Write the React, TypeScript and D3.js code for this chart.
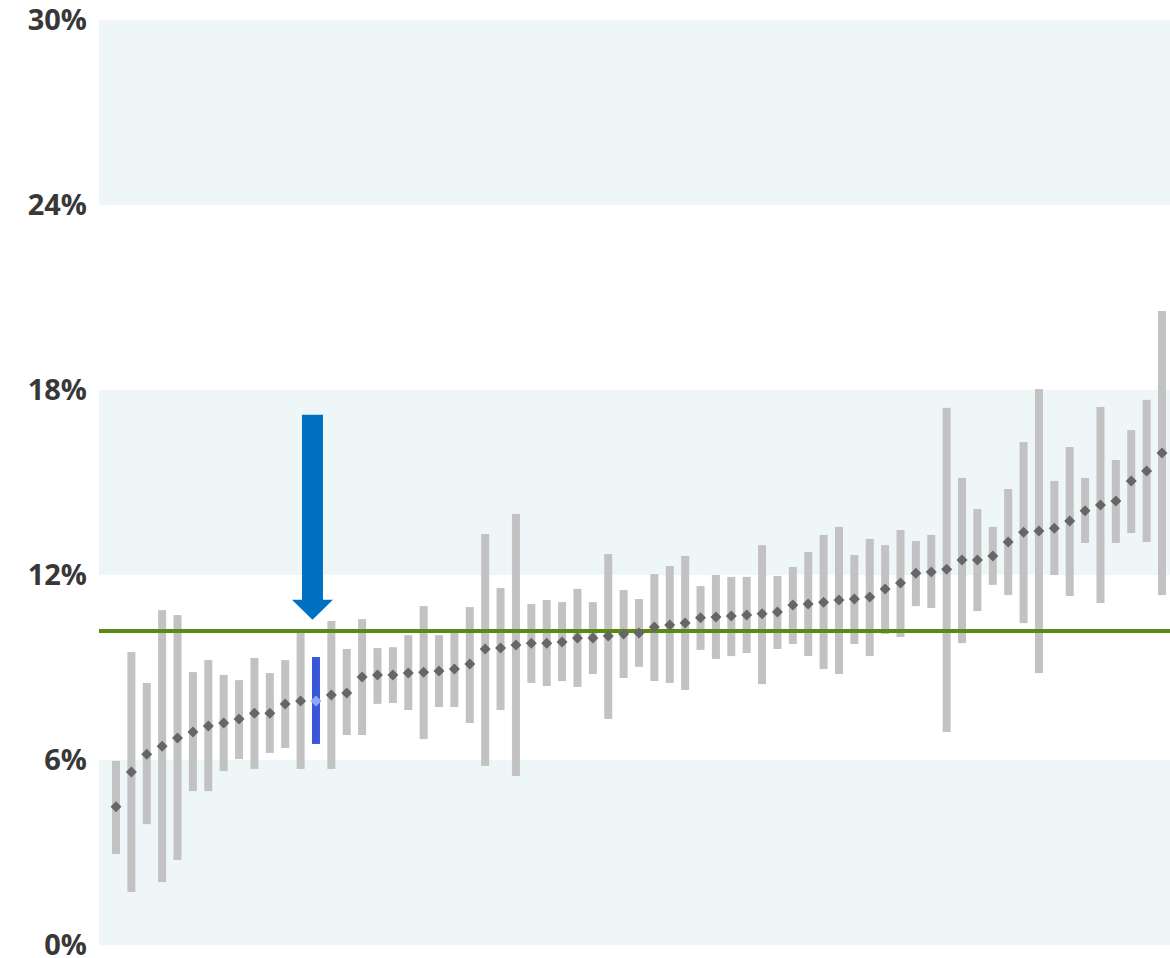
import React from "react";
import * as d3 from "d3";

// values in percent
const lows = [2.95,1.72,3.92,2.04,2.76,4.99,4.99,5.64,6.03,5.71,6.23,6.39,5.71,6.52,5.71,6.81,6.81,7.82,7.85,7.62,6.68,7.72,7.72,7.20,5.81,7.62,5.48,8.50,8.40,8.56,8.37,8.79,7.33,8.66,9.02,8.56,8.50,8.27,9.57,9.28,9.37,9.47,8.46,9.60,9.76,9.37,8.95,8.79,9.76,9.37,10.09,9.99,10.99,10.93,6.91,9.79,10.83,11.68,11.35,10.44,8.82,12.00,11.32,13.04,11.09,13.04,13.36,13.07,11.35];
const mids = [4.48,5.61,6.19,6.45,6.71,6.91,7.10,7.20,7.33,7.52,7.52,7.82,7.91,7.91,8.11,8.17,8.69,8.76,8.76,8.82,8.85,8.89,8.95,9.11,9.60,9.63,9.73,9.79,9.79,9.83,9.96,9.96,10.02,10.09,10.12,10.31,10.38,10.44,10.61,10.64,10.67,10.70,10.74,10.80,11.03,11.06,11.12,11.19,11.22,11.29,11.55,11.74,12.06,12.10,12.19,12.49,12.49,12.62,13.07,13.39,13.43,13.52,13.75,14.08,14.27,14.40,15.05,15.37,15.96];
const highs = [5.97,9.50,8.50,10.86,10.70,8.85,9.24,8.76,8.59,9.31,8.82,9.24,10.15,9.34,10.51,9.60,10.57,9.63,9.66,10.05,10.99,10.05,10.12,10.96,13.33,11.58,13.98,11.06,11.19,11.12,11.55,11.12,12.68,11.51,11.22,12.03,12.29,12.62,11.64,12.00,11.94,11.94,12.97,11.97,12.26,12.75,13.30,13.56,12.65,13.17,12.97,13.46,13.10,13.30,17.42,15.15,14.14,13.56,14.79,16.31,18.03,15.05,16.15,15.15,17.45,15.73,16.70,17.68,20.56];
const highlightIndex = 13;
const referenceValue = 10.18;
const arrowTop = 17.2;
const arrowTip = 10.55;
const yTicks = [0, 6, 12, 18, 24, 30];
const bands = [[0, 6], [12, 18], [24, 30]];

const W = 1170;
const H = 958;

export default function App() {
  const idx = mids.map((_, i) => i);
  const x = d3.scalePoint<number>().domain(idx).range([116, 1162]);
  const y = d3.scaleLinear().domain([0, 30]).range([945, 20]);
  const plotLeft = 99;
  const plotRight = 1170;
  const barW = 8;
  const dm = 5.5; // diamond half-diagonal

  const hx = (x(highlightIndex) as number) - 3.5;
  const shaftHalf = 10.5;
  const headHalf = 20.5;
  const headBase = y(arrowTip) - 20;
  const arrowPath = d3.path();
  arrowPath.moveTo(hx - shaftHalf, y(arrowTop));
  arrowPath.lineTo(hx + shaftHalf, y(arrowTop));
  arrowPath.lineTo(hx + shaftHalf, headBase);
  arrowPath.lineTo(hx + headHalf, headBase);
  arrowPath.lineTo(hx, y(arrowTip));
  arrowPath.lineTo(hx - headHalf, headBase);
  arrowPath.lineTo(hx - shaftHalf, headBase);
  arrowPath.closePath();

  return (
    <div style={{ position: "absolute", left: 0, top: 0 }}>
      <svg width={W} height={H} style={{ display: "block", background: "#fff" }}>
        {bands.map(([a, b], i) => (
          <rect key={i} x={plotLeft} y={y(b)} width={plotRight - plotLeft} height={y(a) - y(b)} fill="#eef6f8" />
        ))}
        {yTicks.map((t) => (
          <text
            key={t}
            x={87}
            y={y(t)}
            dy="0.35em"
            textAnchor="end"
            fontFamily="'Open Sans', sans-serif"
            fontWeight={700}
            fontSize={29}
            fill="#383838"
          >
            {t}%
          </text>
        ))}
        {idx.map((i) => (
          <rect
            key={i}
            x={(x(i) as number) - barW / 2}
            y={y(highs[i])}
            width={barW}
            height={y(lows[i]) - y(highs[i])}
            fill={i === highlightIndex ? "#3a56d8" : "#c2c2c2"}
          />
        ))}
        <line x1={plotLeft} x2={plotRight} y1={y(referenceValue)} y2={y(referenceValue)} stroke="#5a8a12" strokeWidth={4} />
        {idx.map((i) => {
          const cx = x(i) as number;
          const cy = y(mids[i]);
          return (
            <path
              key={i}
              d={`M${cx},${cy - dm}L${cx + dm},${cy}L${cx},${cy + dm}L${cx - dm},${cy}Z`}
              fill={i === highlightIndex ? "#8fa8f2" : "#666666"}
            />
          );
        })}
        <path d={arrowPath.toString()} fill="#0070c0" />
      </svg>
    </div>
  );
}
